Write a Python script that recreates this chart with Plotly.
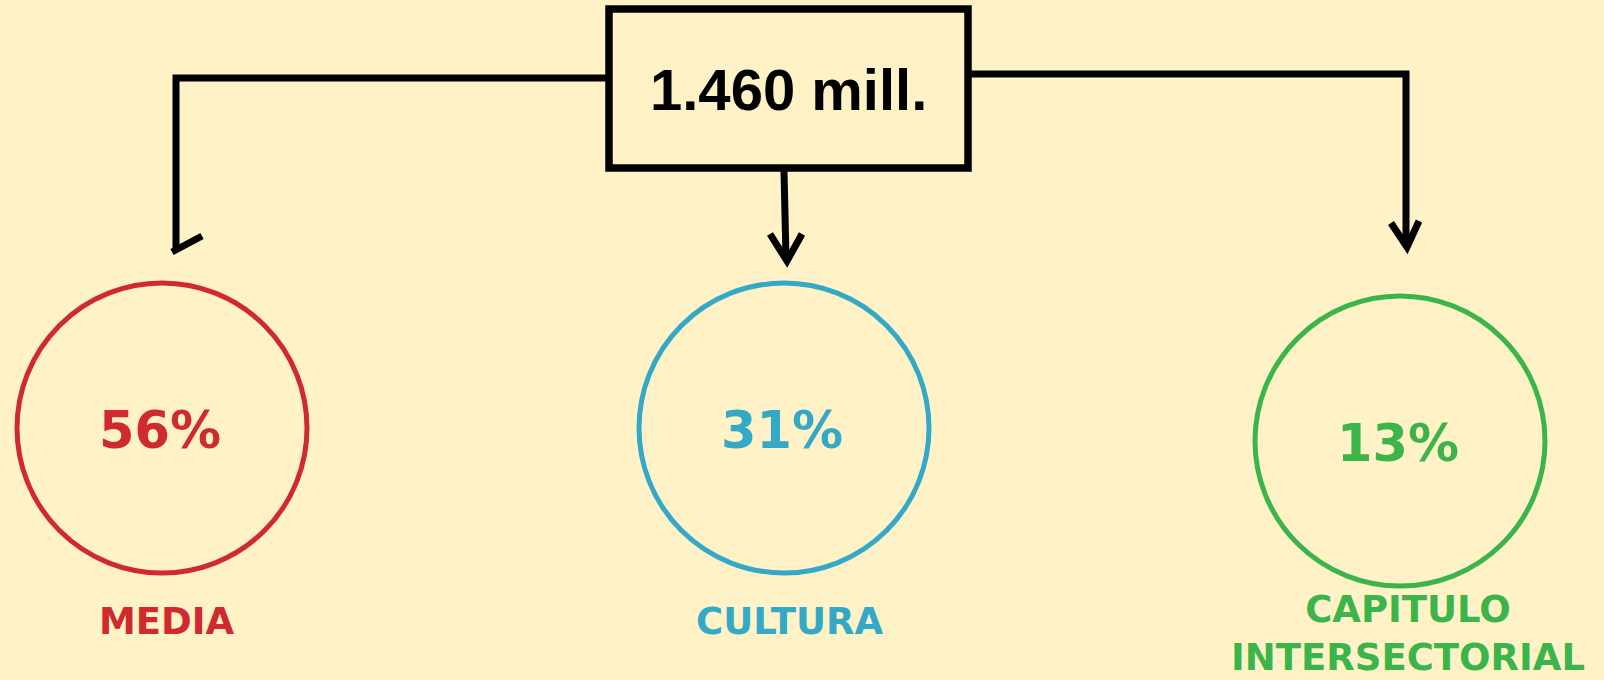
import plotly.graph_objects as go

# ---- data ----
total_label = "1.460 mill."
categories = ["MEDIA", "CULTURA", "CAPITULO<br>INTERSECTORIAL"]
shares = [56, 31, 13]
colors = ["#CF2A2E", "#33A8C7", "#3BB54A"]

# ---- layout constants (pixels; axes map 1 unit = 1 px) ----
W, H = 1604, 680
BG = "#FFF2C6"
circle_cx = [162, 784, 1400]
circle_cy = [428, 428, 441]
R = 145
label_y = [621, 621, 680]
label_yanchor = ["middle", "middle", "bottom"]
label_dx = [5, 5, 8]

fig = go.Figure()
fig.add_trace(go.Scatter(x=[0, W], y=[0, H], mode="markers",
                         marker=dict(opacity=0), hoverinfo="skip", showlegend=False))

shapes = []
# central box
shapes.append(dict(type="rect", x0=609, y0=9, x1=968, y1=168,
                   line=dict(color="black", width=7.5), fillcolor=BG))
blk = dict(color="black", width=7)
# left connector
shapes.append(dict(type="path", path="M 606 78 L 176 78 L 176 248", line=blk))
shapes.append(dict(type="path", path="M 172 252 L 202 236", line=blk))
# centre connector
shapes.append(dict(type="path", path="M 784 171 L 786 258", line=blk))
shapes.append(dict(type="path", path="M 770 234 L 787 261 L 802 234", line=blk))
# right connector
shapes.append(dict(type="path", path="M 971 74 L 1406 74 L 1406 244", line=blk))
shapes.append(dict(type="path", path="M 1391 223 L 1407 247 L 1419 221", line=blk))

# circles
for cx, cy, c in zip(circle_cx, circle_cy, colors):
    shapes.append(dict(type="circle", x0=cx - R, x1=cx + R, y0=cy - R, y1=cy + R,
                       line=dict(color=c, width=5), fillcolor="rgba(0,0,0,0)"))

annotations = [dict(x=788, y=89, text=f"<b>{total_label}</b>", showarrow=False,
                    xanchor="center", yanchor="middle",
                    font=dict(family="Liberation Sans, Arial", size=58, color="black"))]
for cx, cy, c, s in zip(circle_cx, circle_cy, colors, shares):
    annotations.append(dict(x=cx - 2, y=cy + 2, text=f"<b>{s}%</b>", showarrow=False,
                            xanchor="center", yanchor="middle",
                            font=dict(family="DejaVu Sans", size=51, color=c)))
for cx, dx, ly, ya, c, cat in zip(circle_cx, label_dx, label_y, label_yanchor, colors, categories):
    annotations.append(dict(x=cx + dx, y=ly, text=f"<b>{cat}</b>",
                            showarrow=False, xanchor="center", yanchor=ya,
                            borderpad=0,
                            font=dict(family="DejaVu Sans", size=37, color=c)))

fig.update_layout(
    width=W, height=H, autosize=False,
    margin=dict(l=0, r=0, t=0, b=0),
    paper_bgcolor=BG, plot_bgcolor=BG,
    xaxis=dict(range=[0, W], visible=False, fixedrange=True),
    yaxis=dict(range=[H, 0], visible=False, fixedrange=True),
    shapes=shapes, annotations=annotations, showlegend=False,
)
fig.write_html("out.html", config={"displayModeBar": False},
               post_script="document.body.style.margin='0';document.body.style.overflow='hidden';")
